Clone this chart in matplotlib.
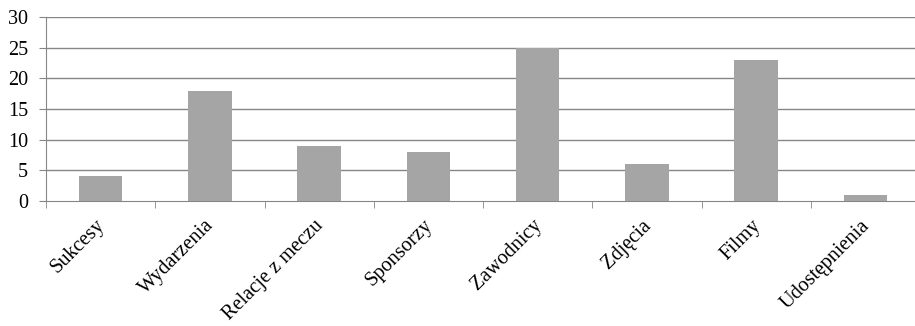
import matplotlib
matplotlib.use("Agg")
import matplotlib.pyplot as plt
import matplotlib.transforms as mtransforms
import numpy as np

categories = ["Sukcesy", "Wydarzenia", "Relacje z meczu", "Sponsorzy",
              "Zawodnicy", "Zdjęcia", "Filmy", "Udostępnienia"]
values = [4, 18, 9, 8, 25, 6, 23, 1]
yticks = [0, 5, 10, 15, 20, 25, 30]

plt.rcParams['font.family'] = ['Liberation Serif', 'DejaVu Serif']
W, H = 915, 326
fig = plt.figure(figsize=(W/100, H/100), dpi=100)
left, right, top, bottom = 46, 920, 17, 201
ax = fig.add_axes([left/W, 1-bottom/H, (right-left)/W, (bottom-top)/H])

x = np.arange(len(categories))
grid_c = "#868686"
ax.bar(x, values, width=0.4, color="#A5A5A5", zorder=3)
ax.set_xlim(-0.5, len(categories)-0.5)
ax.set_ylim(0, 30)
ax.set_yticks(yticks)
ax.set_yticklabels([str(v) for v in yticks], fontsize=14.5)
for v in yticks[1:]:
    ax.axhline(v, color=grid_c, lw=1.0, zorder=1)

for s in ["top", "right"]:
    ax.spines[s].set_visible(False)
ax.spines["left"].set_color(grid_c)
ax.spines["bottom"].set_color(grid_c)

ax.set_xticks(x)
ax.set_xticklabels(categories, rotation=45, ha="right", va="top",
                   rotation_mode="anchor", fontsize=14.7)
ax.tick_params(axis="x", length=0, pad=0)
offset = mtransforms.ScaledTranslation(-5/100, -15/100, fig.dpi_scale_trans)
for lbl in ax.get_xticklabels():
    lbl.set_transform(lbl.get_transform() + offset)
ax.set_xticks(np.arange(len(categories)+1)-0.5, minor=True)
ax.tick_params(axis="x", which="minor", length=5, color=grid_c, direction="out")
ax.tick_params(axis="y", length=5, color=grid_c, pad=8)

fig.savefig("out.png", dpi=100)
